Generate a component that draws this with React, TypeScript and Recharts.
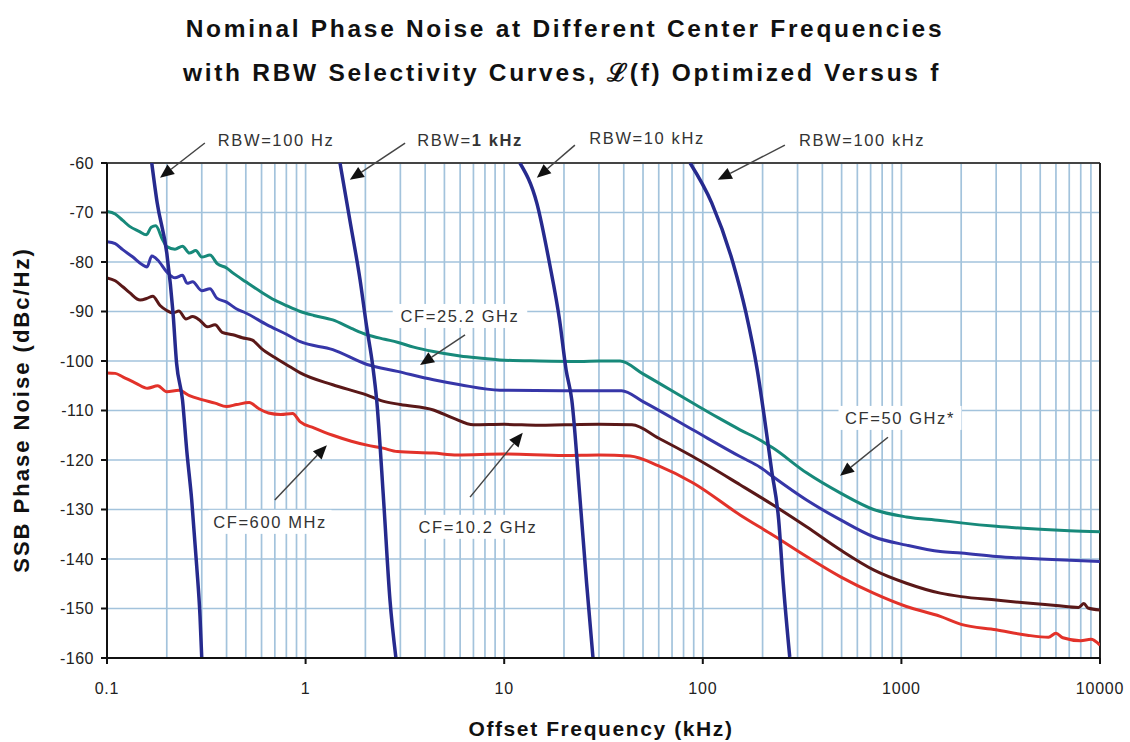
import React from "react";
import {
  LineChart, Line, XAxis, YAxis, CartesianGrid, ReferenceLine, ReferenceDot,
} from "recharts";

const FONT = '"Liberation Sans", Arial, Helvetica, sans-serif';

// axis ticks
const DECADES = [0.1, 1, 10, 100, 1000, 10000];
const MULTIPLES = [1, 2, 3, 4, 5, 6, 7, 8, 9];
const DB_TICKS = [-60, -70, -80, -90, -100, -110, -120, -130, -140, -150, -160];

// CF = 50 GHz (teal)
const CF50_F = [0.1, 0.11, 0.12, 0.13, 0.145, 0.158, 0.167, 0.176, 0.19, 0.2, 0.22, 0.24, 0.26, 0.28, 0.3, 0.33, 0.36, 0.4, 0.43, 0.5, 0.6, 0.7, 0.8, 0.94, 1.1, 1.37, 1.7, 2.04, 2.5, 2.9, 3.5, 4.4, 6, 8, 9.5, 15, 24, 30, 38.3, 50, 89, 120, 154, 195, 226, 333, 494, 724, 1060, 1570, 2000, 3000, 5000, 7000, 10000];
const CF50_DB = [-69.8, -70.3, -71.6, -72.8, -73.8, -74.5, -73.0, -72.7, -75.4, -76.9, -77.4, -76.8, -78.2, -77.7, -79.0, -78.6, -80.4, -81.2, -82.2, -84.0, -86.1, -87.7, -88.8, -90.0, -90.8, -91.7, -93.4, -94.7, -95.6, -96.2, -97.2, -98.1, -99.0, -99.5, -99.8, -100.0, -100.1, -100.0, -100.0, -102.6, -108.5, -111.5, -113.9, -116.0, -117.6, -122.6, -126.7, -130.0, -131.5, -132.2, -132.7, -133.4, -134.0, -134.3, -134.5];

// CF = 25.2 GHz (blue)
const CF25_F = [0.1, 0.11, 0.12, 0.135, 0.15, 0.159, 0.168, 0.18, 0.2, 0.22, 0.24, 0.253, 0.27, 0.3, 0.33, 0.357, 0.4, 0.45, 0.5, 0.64, 0.8, 0.94, 1.37, 2.04, 2.9, 4.4, 6, 9.5, 20, 39, 50, 89, 154, 195, 226, 333, 494, 724, 1060, 1570, 2000, 3000, 5000, 10000];
const CF25_DB = [-75.9, -76.3, -77.5, -79.0, -80.5, -81.0, -78.8, -79.6, -82.0, -83.2, -82.7, -84.3, -84.0, -85.8, -85.4, -87.3, -88.1, -89.5, -90.3, -92.7, -94.6, -96.1, -97.7, -100.7, -102.1, -103.8, -104.8, -105.9, -106.0, -106.0, -108.2, -113.9, -119.3, -121.5, -123.4, -128.1, -132.1, -135.5, -137.2, -138.5, -138.8, -139.5, -140.0, -140.5];

// CF = 10.2 GHz (maroon)
const CF10_F = [0.1, 0.11, 0.12, 0.13, 0.147, 0.16, 0.17, 0.185, 0.2, 0.215, 0.23, 0.25, 0.27, 0.294, 0.32, 0.35, 0.38, 0.43, 0.48, 0.54, 0.6, 0.7, 0.83, 0.94, 1.37, 2.04, 2.4, 3, 4.4, 5.5, 7, 10, 15, 20, 30, 44, 60, 89, 154, 226, 333, 494, 724, 1060, 1570, 2000, 3000, 4300, 6000, 7800, 8300, 8700, 10000];
const CF10_DB = [-83.2, -83.8, -85.0, -86.2, -87.7, -87.3, -86.9, -88.8, -89.8, -90.3, -89.9, -91.5, -91.0, -91.8, -93.1, -92.7, -94.2, -94.7, -95.3, -95.8, -97.5, -99.3, -101.1, -102.4, -104.8, -106.9, -108.0, -108.8, -109.9, -111.5, -112.9, -112.8, -113.0, -112.9, -112.8, -112.9, -115.6, -119.3, -125.0, -129.1, -133.5, -138.2, -142.2, -144.9, -146.9, -147.6, -148.3, -148.9, -149.4, -149.8, -149.0, -149.9, -150.3];

// CF = 600 MHz (red)
const CF600_F = [0.1, 0.11, 0.12, 0.14, 0.16, 0.18, 0.2, 0.23, 0.26, 0.3, 0.35, 0.4, 0.45, 0.52, 0.58, 0.65, 0.75, 0.86, 0.94, 1.1, 1.37, 1.7, 2.04, 2.45, 2.9, 4.4, 5.8, 10, 20, 30, 43, 60, 89, 154, 226, 333, 494, 724, 1060, 1570, 2000, 3000, 4300, 5500, 6000, 6500, 8000, 9000, 10000];
const CF600_DB = [-102.4, -102.5, -103.2, -104.5, -105.5, -105.0, -106.2, -105.9, -107.0, -107.8, -108.5, -109.2, -108.8, -108.4, -109.6, -110.5, -110.8, -110.6, -112.3, -113.5, -115.0, -116.2, -117.0, -117.6, -118.3, -118.6, -119.0, -118.8, -119.1, -119.0, -119.2, -121.2, -124.6, -131.1, -135.2, -139.5, -143.6, -146.9, -149.6, -151.6, -153.2, -154.3, -155.4, -155.8, -155.0, -155.9, -156.5, -156.2, -157.4];

// RBW selectivity curves
const RBW100_F = [0.168, 0.179, 0.2, 0.215, 0.224, 0.24, 0.252, 0.267, 0.283, 0.294, 0.3];
const RBW100_DB = [-60, -68.1, -78.2, -90.3, -100.4, -107.9, -118.0, -128.1, -141.5, -151.6, -160];
const RBW1K_F = [1.49, 1.67, 1.88, 2.03, 2.18, 2.28, 2.47, 2.66, 2.85];
const RBW1K_DB = [-60, -71.5, -83.6, -93.1, -101.1, -107.9, -128.1, -148.3, -160];
const RBW10K_F = [12.0, 14.6, 16.9, 19.0, 20.5, 21.9, 24.1, 26.0, 28.0];
const RBW10K_DB = [-60, -68.1, -80.2, -91.7, -101.8, -107.9, -128.0, -144.9, -160];
const RBW100K_F = [86.3, 111, 142, 165, 188, 205, 222, 241, 254, 274];
const RBW100K_DB = [-60, -68.1, -80.2, -90.3, -101.8, -111.9, -122.0, -132.1, -144.8, -159.8];

// annotations (data coordinates)
const LABELS = [
  { text: "RBW=100 Hz", f: 0.71, db: -55.4 },
  { text: "RBW=1 kHz", f: 6.73, db: -55.4 },
  { text: "RBW=10 kHz", f: 52.4, db: -54.9 },
  { text: "RBW=100 kHz", f: 634, db: -55.4 },
  { text: "CF=25.2 GHz", f: 5.99, db: -90.9 },
  { text: "CF=50 GHz*", f: 984, db: -111.5 },
  { text: "CF=600 MHz", f: 0.662, db: -132.5 },
  { text: "CF=10.2 GHz", f: 7.38, db: -133.5 },
];
const ARROWS = [
  { from: [0.311, -55.96], to: [0.185, -63.0] },
  { from: [3.17, -55.96], to: [1.67, -63.4] },
  { from: [22.7, -56.4], to: [14.6, -63.0] },
  { from: [259, -56.4], to: [119, -63.4] },
  { from: [6.35, -94.7], to: [3.77, -100.8] },
  { from: [856, -115.4], to: [491, -123.2] },
  { from: [0.70, -128.1], to: [1.28, -117.0] },
  { from: [6.73, -127.5], to: [12.4, -114.5] },
];

const rows = (f: number[], db: number[]) => f.map((x, i) => ({ f: x, db: db[i] }));

const GRID_F = DECADES.slice(0, -1)
  .flatMap((d) => MULTIPLES.map((m) => +(d * m).toPrecision(3)))
  .concat([10000]);

const SERIES = [
  { name: "CF=50 GHz", data: rows(CF50_F, CF50_DB), color: "#17897a", width: 3 },
  { name: "CF=25.2 GHz", data: rows(CF25_F, CF25_DB), color: "#3636a8", width: 3 },
  { name: "CF=10.2 GHz", data: rows(CF10_F, CF10_DB), color: "#5a1818", width: 3 },
  { name: "CF=600 MHz", data: rows(CF600_F, CF600_DB), color: "#e2322a", width: 3 },
  { name: "RBW=100 Hz", data: rows(RBW100_F, RBW100_DB), color: "#262a8e", width: 3.5 },
  { name: "RBW=1 kHz", data: rows(RBW1K_F, RBW1K_DB), color: "#262a8e", width: 3.5 },
  { name: "RBW=10 kHz", data: rows(RBW10K_F, RBW10K_DB), color: "#262a8e", width: 3.5 },
  { name: "RBW=100 kHz", data: rows(RBW100K_F, RBW100K_DB), color: "#262a8e", width: 3.5 },
];

const FreqTick = ({ x, y, payload }: any) => {
  const v = payload.value;
  if (!DECADES.includes(v)) return null;
  const axisY = y - 8;
  return (
    <g>
      <line x1={x} x2={x} y1={axisY} y2={axisY + 6} stroke="#111" strokeWidth={2} />
      <text x={x} y={axisY + 36} textAnchor="middle" fontSize={16} fill="#222" fontFamily={FONT} letterSpacing={0.8}>
        {String(v)}
      </text>
    </g>
  );
};

const Arrow = (p: any) => {
  const { x1, y1, x2, y2 } = p;
  const dx = x2 - x1, dy = y2 - y1;
  const len = Math.hypot(dx, dy) || 1;
  const ux = dx / len, uy = dy / len;
  const L = 14, W = 6;
  const bx = x2 - ux * L, by = y2 - uy * L;
  const pts = `${x2},${y2} ${bx - uy * W},${by + ux * W} ${bx + uy * W},${by - ux * W}`;
  return (
    <g>
      <line x1={x1} y1={y1} x2={bx} y2={by} stroke="#444" strokeWidth={1.5} />
      <polygon points={pts} fill="#111" />
    </g>
  );
};

const LabelBox = ({ cx, cy, text }: any) => {
  const w = text.length * 11.5 + 8;
  const bold = text === "RBW=1 kHz";
  return (
    <g>
      <rect x={cx - w / 2} y={cy - 12} width={w} height={24} fill="#fff" />
      <text x={cx} y={cy + 6} textAnchor="middle" fontSize={16.5} fill="#333" fontFamily={FONT} letterSpacing={1.6}>
        {bold ? (<><tspan>RBW=</tspan><tspan fontWeight="bold">1 kHz</tspan></>) : text}
      </text>
    </g>
  );
};

export default function App() {
  return (
    <div style={{ position: "absolute", left: 0, top: 0, width: 1130, height: 742, background: "#fff", fontFamily: FONT }}>
      <LineChart width={1130} height={742} margin={{ top: 163, right: 30, left: 47, bottom: 44 }}>
        <CartesianGrid stroke="#a3c3dc" strokeWidth={1.7} />
        <XAxis
          dataKey="f"
          type="number"
          scale="log"
          domain={[0.1, 10000]}
          ticks={GRID_F}
          interval={0}
          allowDataOverflow
          height={40}
          tickSize={6}
          tickMargin={2}
          tickLine={false}
          tick={<FreqTick />}
          axisLine={{ stroke: "#111", strokeWidth: 2 }}
        />
        <YAxis
          type="number"
          domain={[-160, -60]}
          ticks={DB_TICKS}
          interval={0}
          allowDataOverflow
          width={60}
          tickSize={6}
          tickMargin={7}
          tick={{ fontSize: 16, fill: "#222", fontFamily: FONT, letterSpacing: 0.5 }}
          tickLine={{ stroke: "#111", strokeWidth: 2 }}
          axisLine={{ stroke: "#111", strokeWidth: 2 }}
        />
        <ReferenceLine y={-60} stroke="#444" strokeWidth={2} />
        <ReferenceLine x={10000} stroke="#222" strokeWidth={2} />
        {SERIES.map((s) => (
          <Line
            key={s.name}
            name={s.name}
            data={s.data}
            dataKey="db"
            type="monotone"
            stroke={s.color}
            strokeWidth={s.width}
            strokeLinejoin="round"
            dot={false}
            activeDot={false}
            isAnimationActive={false}
          />
        ))}
        {LABELS.map((l) => (
          <ReferenceDot
            key={l.text}
            x={l.f}
            y={l.db}
            r={0}
            ifOverflow="visible"
            shape={(p: any) => <LabelBox {...p} text={l.text} />}
          />
        ))}
        {ARROWS.map((a, i) => (
          <ReferenceLine
            key={i}
            segment={[{ x: a.from[0], y: a.from[1] }, { x: a.to[0], y: a.to[1] }]}
            ifOverflow="visible"
            stroke="#444"
            shape={(p: any) => <Arrow {...p} />}
          />
        ))}
      </LineChart>
      <svg width={1130} height={742} style={{ position: "absolute", left: 0, top: 0, pointerEvents: "none" }}>
        <text x={565} y={37} textAnchor="middle" fontSize={24.5} fontWeight="bold" fill="#111" fontFamily={FONT} letterSpacing={2.7}>
          Nominal Phase Noise at Different Center Frequencies
        </text>
        <text x={562} y={81} textAnchor="middle" fontSize={24.5} fontWeight="bold" fill="#111" fontFamily={FONT} letterSpacing={2.7}>
          with RBW Selectivity Curves, ℒ(f) Optimized Versus f
        </text>
        <text x={601} y={736} textAnchor="middle" fontSize={21} fontWeight="bold" fill="#111" fontFamily={FONT} letterSpacing={1.6}>
          Offset Frequency (kHz)
        </text>
        <text transform="translate(29,410) rotate(-90)" textAnchor="middle" fontSize={22} fontWeight="bold" fill="#111" fontFamily={FONT} letterSpacing={2}>
          SSB Phase Noise (dBc/Hz)
        </text>
      </svg>
    </div>
  );
}
